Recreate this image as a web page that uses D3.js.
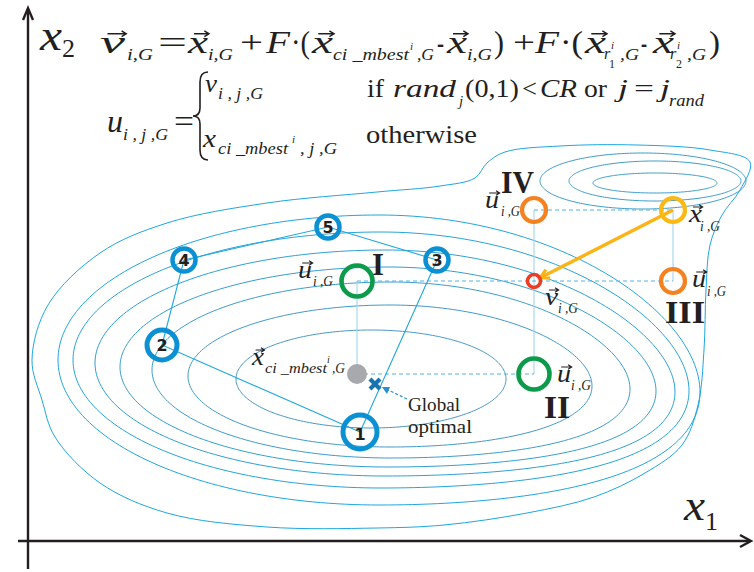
<!DOCTYPE html>
<html>
<head>
<meta charset="utf-8">
<script src="https://cdn.jsdelivr.net/npm/d3@7"></script>
<style>
  body { margin: 0; background: #fff; }
</style>
</head>
<body>
<div id="container"></div>
<script>
// search space units: x1 in [0, 72], x2 in [0, 54]
const basinContours = [          // [cx, cy, rx, ry, skew]  main basin, outer -> inner
  [35.1, 18.0, 32.1, 14.5, 0.10],
  [35.3, 18.0, 30.8, 12.8, 0.10],
  [35.7, 17.7, 29.0, 11.3, 0.10],
  [36.0, 17.3, 26.8, 10.0, 0.09],
  [36.3, 17.0, 23.9, 8.8, 0.08],
  [36.2, 16.4, 20.2, 7.1, 0.05],
  [34.3, 16.1, 13.5, 4.9, 0.0]
];
const localContours = [          // second (local) basin, top right
  [61.5, 35.9, 10.3, 2.8],
  [62.7, 35.9, 8.6, 2.0],
  [62.7, 35.7, 6.2, 1.0]
];
const outerContour = [
  [0.4, 18.0], [2.0, 23.5], [7.2, 28.7], [13.9, 31.7], [23.9, 33.7], [34.9, 34.8],
  [41.2, 35.4], [44.7, 36.2], [45.9, 37.7], [47.7, 38.8], [53.2, 39.4], [60.9, 39.5],
  [68.2, 39.0], [72.2, 37.8], [71.2, 35.0], [69.4, 32.5], [68.2, 29.5], [67.8, 25.0],
  [67.6, 19.0], [67.0, 13.5], [65.4, 9.5], [61.7, 6.7], [56.6, 4.3], [49.9, 2.7],
  [41.6, 1.5], [34.9, 1.2], [23.9, 1.3], [13.9, 2.7], [7.2, 5.7], [2.7, 10.3], [1.4, 14.0]
];

// population members 1..5 and the walk between them
const popLabels = ['1', '2', '3', '4', '5'];
const popX1 = [33.2, 13.4, 40.9, 15.6, 30.0];
const popX2 = [10.8, 19.5, 28.0, 28.0, 31.3];
const popOrder = ['1', '2', '4', '5', '3'];

const target = [64.5, 33.0];     // x_i,G
const mutant = [50.6, 25.9];     // v_i,G
const mbest  = [32.9, 16.6];     // x_ci_mbest,G
const optimum = [34.7, 15.6];

const trialNames = ['I', 'II', 'III', 'IV'];
const trialX1 = [32.9, 50.6, 64.5, 50.6];
const trialX2 = [25.9, 16.6, 25.9, 33.0];

const solidGuides = [ [mbest, [32.9, 25.9]], [[50.6, 33.0], [50.6, 16.6]], [target, [64.5, 25.9]] ];
const dashGuides  = [ [mbest, [50.6, 16.6]], [[32.9, 25.9], [64.5, 25.9]], [[50.6, 33.0], target] ];

const W = 754, H = 572;
const serif = "'Liberation Serif', 'Times New Roman', serif";
const sans = "'DejaVu Sans', 'Liberation Sans', sans-serif";
const ink = '#231f20';

const x = d3.scaleLinear().domain([0, 72]).range([28, 748]);
const y = d3.scaleLinear().domain([0, 54]).range([540, 0]);

const svg = d3.select('#container').append('svg').attr('width', W).attr('height', H);

// ---- contours
const lineClosed = d3.line().curve(d3.curveLinearClosed);
const basinColor = d3.interpolateRgb('#20a6de', '#4a98c2');
basinContours.forEach((c, i) => {
  const [cx, cy, rx, ry, sk] = c;
  const pts = d3.range(0, 2 * Math.PI, Math.PI / 120).map(t => {
    const ct = Math.cos(t), st = Math.sin(t);
    return [x(cx + rx * ct), y(cy + ry * st - sk * rx * Math.pow(Math.max(0, ct), 2))];
  });
  svg.append('path').attr('d', lineClosed(pts)).attr('fill', 'none')
    .attr('stroke', basinColor(i / (basinContours.length - 1))).attr('stroke-width', 1);
});
localContours.forEach(c => {
  const [cx, cy, rx, ry] = c;
  const pts = d3.range(0, 2 * Math.PI, Math.PI / 120).map(t => [x(cx + rx * Math.cos(t)), y(cy + ry * Math.sin(t))]);
  svg.append('path').attr('d', lineClosed(pts)).attr('fill', 'none')
    .attr('stroke', '#3c9cc8').attr('stroke-width', 1);
});
svg.append('path')
  .attr('d', d3.line().x(d => x(d[0])).y(d => y(d[1])).curve(d3.curveCatmullRomClosed.alpha(0.5))(outerContour))
  .attr('fill', 'none').attr('stroke', '#1ea7e0').attr('stroke-width', 1);

// ---- axes
const ax = svg.append('g').attr('stroke', ink).attr('stroke-width', 2.4).attr('fill', 'none');
ax.append('line').attr('x1', x(0)).attr('x2', x(0)).attr('y1', 569).attr('y2', 9);
ax.append('line').attr('x1', 18).attr('x2', 749).attr('y1', y(0) + 1).attr('y2', y(0) + 1);
ax.append('path').attr('d', `M${x(0) - 5},${20} L${x(0)},${8} L${x(0) + 5},${20}`);
ax.append('path').attr('d', `M${740},${y(0) - 5} L${751},${y(0) + 1} L${740},${y(0) + 7}`);

// ---- helper for math text
function put(g, p) {
  const t = g.append('text').attr('x', p.x).attr('y', p.y)
    .attr('font-family', p.f || serif).attr('font-size', p.s).attr('fill', ink)
    .attr('font-style', p.i ? 'italic' : null).attr('font-weight', p.b ? 'bold' : null)
    .text(p.t);
  if (p.w) t.attr('textLength', p.w).attr('lengthAdjust', 'spacingAndGlyphs');
  if (p.v) {
    const w = p.w || t.node().getComputedTextLength();
    const ay = p.y - p.s * 0.6, a0 = p.x + w * 0.3, a1 = p.x + w * 1.05;
    const hs = p.s / 11;
    g.append('path').attr('d', `M${a0},${ay} L${a1},${ay} M${a1 - hs * 1.6},${ay - hs} L${a1},${ay} L${a1 - hs * 1.6},${ay + hs}`)
      .attr('fill', 'none').attr('stroke', ink).attr('stroke-width', p.s / 22);
  }
}

const txt = svg.append('g');
const eq1 = [
  {t:'v', x:100, y:53, s:32, i:1, w:25, v:1}, {t:'i,G', x:127, y:60, s:16, i:1, w:26},
  {t:'=', x:158, y:53, s:32, w:29},
  {t:'x', x:188, y:53, s:32, i:1, w:20, v:1}, {t:'i,G', x:208, y:60, s:16, i:1, w:25},
  {t:'+', x:240, y:53, s:32, w:23}, {t:'F', x:266, y:53, s:32, i:1, w:24},
  {t:'·(', x:291, y:53, s:32, w:19},
  {t:'x', x:312, y:53, s:32, i:1, w:21, v:1}, {t:'ci _mbest', x:333, y:60, s:16, i:1, w:76},
  {t:'i', x:410, y:50, s:11, i:1}, {t:',G', x:417, y:60, s:16, i:1, w:17},
  {t:'-', x:437, y:53, s:32, w:7},
  {t:'x', x:447, y:53, s:32, i:1, w:20, v:1}, {t:'i,G', x:467, y:60, s:16, i:1, w:25},
  {t:')', x:494, y:53, s:32, w:10}, {t:'+', x:513, y:53, s:32, w:22},
  {t:'F', x:535, y:53, s:32, i:1, w:24}, {t:'·(', x:560, y:53, s:32, w:23},
  {t:'x', x:585, y:53, s:32, i:1, w:21, v:1}, {t:'r', x:604, y:59, s:16, i:1}, {t:'1', x:609, y:68, s:12},
  {t:'i', x:611, y:49, s:11, i:1}, {t:',G', x:620, y:60, s:16, i:1, w:19},
  {t:'-', x:641, y:53, s:32, w:6},
  {t:'x', x:653, y:53, s:32, i:1, w:21, v:1}, {t:'r', x:670, y:59, s:16, i:1}, {t:'2', x:676, y:68, s:12},
  {t:'i', x:677, y:49, s:11, i:1}, {t:',G', x:687, y:60, s:16, i:1, w:19},
  {t:')', x:709, y:53, s:32, w:11}
];
const eq2 = [
  {t:'u', x:107, y:132, s:32, i:1, w:16}, {t:'i , j ,G', x:123, y:140, s:16, i:1, w:45},
  {t:'=', x:174, y:132, s:32, w:20},
  {t:'v', x:205, y:92, s:25, i:1, w:12}, {t:'i , j ,G', x:218, y:99, s:16, i:1, w:45},
  {t:'x', x:203, y:147, s:25, i:1, w:13}, {t:'ci _mbest', x:218, y:154, s:16, i:1, w:70},
  {t:'i', x:292, y:143, s:11, i:1}, {t:', j ,G', x:300, y:154, s:16, i:1, w:37},
  {t:'if', x:367, y:97, s:26, w:17}, {t:'rand', x:393, y:97, s:26, i:1, w:63},
  {t:'j', x:459, y:106, s:15, i:1}, {t:'(0,1)', x:465, y:97, s:26, w:54},
  {t:'<', x:522, y:97, s:26, w:15}, {t:'CR', x:540, y:97, s:26, i:1, w:37},
  {t:'or', x:584, y:97, s:26, w:23}, {t:'j', x:618, y:97, s:26, i:1, w:10},
  {t:'=', x:634, y:97, s:26, w:20}, {t:'j', x:660, y:97, s:26, i:1, w:10},
  {t:'rand', x:669, y:106, s:16, i:1, w:35},
  {t:'otherwise', x:366, y:143, s:26, w:111}
];
const axisText = [
  {t:'x', x:40, y:50, s:44, i:1, w:22}, {t:'2', x:62, y:57, s:26},
  {t:'x', x:684, y:520, s:44, i:1, w:21}, {t:'1', x:705, y:530, s:26}
];
eq1.concat(eq2, axisText).forEach(p => put(txt, p));

// brace
txt.append('path')
  .attr('d', 'M208,72 Q200,72 200,82 L200,108 Q200,116 193,116 Q200,116 200,124 L200,150 Q200,160 208,160')
  .attr('fill', 'none').attr('stroke', ink).attr('stroke-width', 1.6);

// ---- guide lines
svg.append('g').selectAll('line').data(solidGuides).join('line')
  .attr('x1', d => x(d[0][0])).attr('y1', d => y(d[0][1]))
  .attr('x2', d => x(d[1][0])).attr('y2', d => y(d[1][1]))
  .attr('stroke', '#a6d3ec').attr('stroke-width', 1.1);
svg.append('g').selectAll('line').data(dashGuides).join('line')
  .attr('x1', d => x(d[0][0])).attr('y1', d => y(d[0][1]))
  .attr('x2', d => x(d[1][0])).attr('y2', d => y(d[1][1]))
  .attr('stroke', '#55b3e2').attr('stroke-width', 1.2).attr('stroke-dasharray', '4,3');

// ---- population walk
const pop = popLabels.map((k, i) => ({k, x1: popX1[i], x2: popX2[i]}));
const byKey = Object.fromEntries(pop.map(d => [d.k, d]));
svg.append('path')
  .attr('d', d3.line().x(d => x(d.x1)).y(d => y(d.x2)).curve(d3.curveLinearClosed)(popOrder.map(k => byKey[k])))
  .attr('fill', 'none').attr('stroke', '#22a8de').attr('stroke-width', 1.1);

// best member and global optimum
svg.append('circle').attr('cx', x(mbest[0])).attr('cy', y(mbest[1])).attr('r', 10).attr('fill', '#a8a9ad');
const ox = x(optimum[0]), oy = y(optimum[1]);
svg.append('path').attr('d', `M${ox - 5},${oy - 5} L${ox + 5},${oy + 5} M${ox - 5},${oy + 5} L${ox + 5},${oy - 5}`)
  .attr('stroke', '#1b72b0').attr('stroke-width', 4.2).attr('fill', 'none');
svg.append('line').attr('x1', 407).attr('y1', 399).attr('x2', ox + 11).attr('y2', oy + 5)
  .attr('stroke', '#2a8fcf').attr('stroke-width', 1.2).attr('stroke-dasharray', '3,2');
svg.append('path').attr('d', `M${ox + 7},${oy + 3} L${ox + 15},${oy + 3} L${ox + 12},${oy + 10} Z`).attr('fill', '#2a8fcf');

// population circles
const popR = {'1': 17, '2': 15, '3': 11.5, '4': 11.5, '5': 11.5};
const pg = svg.append('g').selectAll('g').data(pop).join('g')
  .attr('transform', d => `translate(${x(d.x1)},${y(d.x2)})`);
pg.append('circle').attr('r', d => popR[d.k]).attr('fill', 'none')
  .attr('stroke', '#0b91d3').attr('stroke-width', d => d.k < '3' ? 5 : 4.5);
pg.append('text').attr('text-anchor', 'middle').attr('dy', d => d.k === '1' ? 8 : 6)
  .attr('font-family', sans).attr('font-weight', 'bold').attr('font-size', 16).attr('fill', ink)
  .text(d => d.k);

// mutation arrow x_i -> v_i
const tx = x(target[0]), ty = y(target[1]), mx = x(mutant[0]), my = y(mutant[1]);
const ang = Math.atan2(my - ty, mx - tx);
const tipX = mx + Math.cos(ang) * -7, tipY = my + Math.sin(ang) * -7;
svg.append('line').attr('x1', tx).attr('y1', ty).attr('x2', tipX).attr('y2', tipY)
  .attr('stroke', '#fbb315').attr('stroke-width', 3.4);
const hl = 10;
svg.append('path')
  .attr('d', `M${tipX - hl * Math.cos(ang - 0.5)},${tipY - hl * Math.sin(ang - 0.5)} L${tipX},${tipY} L${tipX - hl * Math.cos(ang + 0.5)},${tipY - hl * Math.sin(ang + 0.5)}`)
  .attr('fill', 'none').attr('stroke', '#fbb315').attr('stroke-width', 3.2).attr('stroke-linejoin', 'miter');

// trial vectors, target and mutant
const trialColor = {'I': '#0c9b4a', 'II': '#0c9b4a', 'III': '#f58220', 'IV': '#f58220'};
const trialR = {'I': 15.5, 'II': 15.5, 'III': 12, 'IV': 12};
trialNames.forEach((k, i) => {
  svg.append('circle').attr('cx', x(trialX1[i])).attr('cy', y(trialX2[i])).attr('r', trialR[k])
    .attr('fill', 'none').attr('stroke', trialColor[k]).attr('stroke-width', k.length < 3 && k !== 'IV' ? 4.6 : 4.2);
});
svg.append('circle').attr('cx', tx).attr('cy', ty).attr('r', 12).attr('fill', 'none')
  .attr('stroke', '#fdb913').attr('stroke-width', 4.2);
svg.append('circle').attr('cx', mx).attr('cy', my).attr('r', 6.5).attr('fill', 'none')
  .attr('stroke', '#ee3b24').attr('stroke-width', 3.6);

// point labels
const labels = [
  {t:'IV', x:501, y:193, s:31, b:1, w:33}, {t:'u', x:485, y:208, s:25, i:1, w:14, v:1}, {t:'i ,G', x:501, y:216, s:15, i:1, w:19},
  {t:'x', x:689, y:222, s:25, i:1, w:13, v:1}, {t:'i ,G', x:700, y:231, s:15, i:1, w:20},
  {t:'u', x:692, y:287, s:25, i:1, w:14, v:1}, {t:'i ,G', x:707, y:296, s:15, i:1, w:19},
  {t:'III', x:665, y:323, s:31, b:1, w:40},
  {t:'v', x:545, y:305, s:25, i:1, w:13, v:1}, {t:'i ,G', x:558, y:313, s:15, i:1, w:20},
  {t:'u', x:298, y:278, s:25, i:1, w:14, v:1}, {t:'i ,G', x:313, y:286, s:15, i:1, w:20},
  {t:'I', x:372, y:275, s:31, b:1, w:12},
  {t:'x', x:252, y:365, s:25, i:1, w:12, v:1}, {t:'ci _mbest', x:265, y:373, s:15, i:1, w:62},
  {t:'i', x:327, y:363, s:10, i:1}, {t:',G', x:332, y:373, s:15, i:1, w:13},
  {t:'u', x:557, y:382, s:25, i:1, w:14, v:1}, {t:'i ,G', x:571, y:390, s:15, i:1, w:20},
  {t:'II', x:544, y:418, s:31, b:1, w:26},
  {t:'Global', x:408, y:411, s:19, w:52}, {t:'optimal', x:408, y:433, s:19, w:64}
];
labels.forEach(p => put(txt, p));
</script>
</body>
</html>
